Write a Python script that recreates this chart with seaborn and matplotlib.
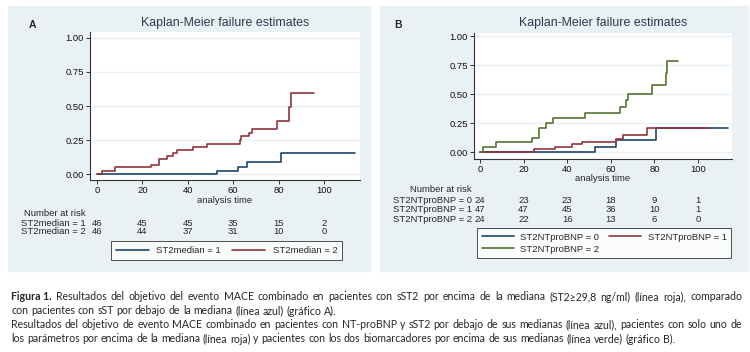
import numpy as np
import pandas as pd
import matplotlib
matplotlib.use("Agg")
import matplotlib.pyplot as plt
import matplotlib.transforms as mtransforms
from matplotlib.patches import Rectangle
from matplotlib.lines import Line2D
import seaborn as sns

# ================================
#  Data
# ================================
# Panel A - ST2median groups
a_time_1 = [0, 53.0, 62.3, 65.9, 80.9, 113.7]
a_fail_1 = [0, 0.022, 0.055, 0.088, 0.155, 0.155]
a_time_2 = [0, 2.0, 7.9, 24.0, 27.5, 30.7, 33.6, 35.4, 42.4, 48.3, 63.2, 63.6,
            67.1, 68.4, 79.3, 84.7, 85.3, 95.6]
a_fail_2 = [0, 0.022, 0.05, 0.069, 0.113, 0.135, 0.155, 0.177, 0.20, 0.222, 0.25,
            0.277, 0.303, 0.33, 0.392, 0.49, 0.596, 0.596]

# Panel B - ST2NTproBNP groups
b_time_0 = [0, 52.6, 62.5, 80.6, 113.8]
b_fail_0 = [0, 0.042, 0.10, 0.204, 0.204]
b_time_1 = [0, 24.6, 34.6, 42.3, 46.9, 62.2, 65.8, 76.8, 104.5]
b_fail_1 = [0, 0.022, 0.045, 0.066, 0.09, 0.11, 0.145, 0.204, 0.204]
b_time_2 = [0, 1.5, 7.4, 23.8, 26.9, 30.4, 33.5, 48.0, 64.0, 66.8, 68.0, 79.0,
            85.3, 85.7, 90.8]
b_fail_2 = [0, 0.042, 0.083, 0.125, 0.208, 0.25, 0.292, 0.34, 0.39, 0.445, 0.50,
            0.58, 0.68, 0.785, 0.785]

# Number at risk
risk_times = [0, 20, 40, 60, 80, 100]
a_labels = ["ST2median = 1", "ST2median = 2"]
a_risk = [[46, 45, 45, 35, 15, 2],
          [46, 44, 37, 31, 10, 0]]
b_labels = ["ST2NTproBNP = 0", "ST2NTproBNP = 1", "ST2NTproBNP = 2"]
b_risk = [[24, 23, 23, 18, 9, 1],
          [47, 47, 45, 36, 10, 1],
          [24, 22, 16, 13, 6, 0]]

x_ticks = [0, 20, 40, 60, 80, 100]
y_ticks = [0, 0.25, 0.5, 0.75, 1.0]
y_ticklabels = ["0.00", "0.25", "0.50", "0.75", "1.00"]

caption_bold = "Figura 1."
caption_lines = [
    "Resultados del objetivo del evento MACE combinado en pacientes con sST2 por encima de la mediana (ST2≥29,8 ng/ml) (línea roja), comparado",
    "con pacientes con sST por debajo de la mediana (línea azul) (gráfico A).",
    "Resultados del objetivo de evento MACE combinado en pacientes con NT-proBNP y sST2 por debajo de sus medianas (línea azul), pacientes con solo uno de",
    "los parámetros por encima de la mediana (línea roja) y pacientes con los dos biomarcadores por encima de sus medianas (línea verde) (gráfico B).",
]
caption_justify = [True, False, True, False]

# Stata s2color
NAVY = "#1a476f"
MAROON = "#90353b"
GREEN = "#55752f"
BG = "#eaf1f4"
TITLE_C = "#2a3a52"

sns.set_style("white")
plt.rcParams["font.family"] = ["Liberation Sans", "DejaVu Sans"]

W, H = 750, 352
fig = plt.figure(figsize=(7.5, 3.52), dpi=100)


def fx(x):
    return x / W


def fy(y):
    return 1 - y / H


def axes_rect(l, t, r, b):
    return [fx(l), fy(b), (r - l) / W, (b - t) / H]


# panel backgrounds
for l, r in [(8, 370), (380, 748)]:
    fig.add_artist(Rectangle((fx(l), fy(271)), (r - l) / W, 265 / H,
                             transform=fig.transFigure, color=BG, zorder=0))

FS = 6.8


def km_panel(rect, xlim, ylim, series, colors, letter, letter_xy, title_xy):
    ax = fig.add_axes(rect)
    ax.set_facecolor("white")
    frames = []
    for name, t, f in series:
        frames.append(pd.DataFrame({"time": t, "fail": f, "group": name}))
    df = pd.concat(frames, ignore_index=True)
    sns.lineplot(data=df, x="time", y="fail", hue="group", palette=colors,
                 drawstyle="steps-post", estimator=None, sort=False,
                 linewidth=1.2, legend=False, ax=ax)
    ax.set_xlim(*xlim)
    ax.set_ylim(*ylim)
    ax.set_xticks(x_ticks)
    ax.set_yticks(y_ticks)
    ax.set_yticklabels(y_ticklabels)
    ax.set_xlabel("")
    ax.set_ylabel("")
    ax.yaxis.grid(True, color=BG, lw=1.0)
    ax.xaxis.grid(False)
    ax.set_axisbelow(True)
    for s in ["top", "right"]:
        ax.spines[s].set_visible(False)
    for s in ["left", "bottom"]:
        ax.spines[s].set_color("#333333")
        ax.spines[s].set_linewidth(0.8)
    ax.tick_params(axis="both", which="major", length=3, width=0.7,
                   color="#333333", labelsize=FS, pad=1.5, direction="out",
                   bottom=True, left=True, labelcolor="#111111")
    fig.text(fx(letter_xy[0]), fy(letter_xy[1]), letter, fontsize=7.5,
             fontweight="bold", ha="center", va="center")
    fig.text(fx(title_xy[0]), fy(title_xy[1]), "Kaplan-Meier failure estimates",
             fontsize=8.9, color=TITLE_C, ha="center", va="center")
    return ax


ax_a = km_panel(axes_rect(90, 32, 360, 180), (-3.1, 115.9), (-0.044, 1.044),
                [(a_labels[0], a_time_1, a_fail_1), (a_labels[1], a_time_2, a_fail_2)],
                [NAVY, MAROON], "A", (32, 25), (225, 23))
ax_b = km_panel(axes_rect(474, 33, 732, 159), (-2.75, 115.6), (-0.06, 1.026),
                [(b_labels[0], b_time_0, b_fail_0), (b_labels[1], b_time_1, b_fail_1),
                 (b_labels[2], b_time_2, b_fail_2)],
                [NAVY, MAROON, GREEN], "B", (398, 25), (603, 23))

# axis titles
fig.text(fx(225), fy(200), "analysis time", fontsize=FS, ha="center", va="center")
fig.text(fx(603), fy(178.5), "analysis time", fontsize=FS, ha="center", va="center")


def risk_table(ax, labels, risk, label_right, y_head, y_rows):
    tr = mtransforms.blended_transform_factory(ax.transData, fig.transFigure)
    fig.text(fx(label_right), fy(y_head), "Number at risk", fontsize=FS,
             ha="right", va="center")
    for lab, row, yy in zip(labels, risk, y_rows):
        fig.text(fx(label_right), fy(yy), lab, fontsize=FS, ha="right", va="center")
        for t, n in zip(risk_times, row):
            ax.text(t, fy(yy), str(n), transform=tr, fontsize=FS,
                    ha="center", va="center")


risk_table(ax_a, a_labels, a_risk, 86, 213, [223, 232])
risk_table(ax_b, b_labels, b_risk, 472, 189.5, [200, 210, 220])

# legends
h_a = [Line2D([], [], color=NAVY, lw=1.2), Line2D([], [], color=MAROON, lw=1.2)]
leg_a = ax_a.legend(h_a, a_labels, loc="upper left", ncol=2,
                    bbox_to_anchor=(fx(111), fy(241.5)), bbox_transform=fig.transFigure,
                    fontsize=FS, frameon=True, fancybox=False, handlelength=3.5,
                    handletextpad=0.8, columnspacing=1.2, borderpad=0.5,
                    borderaxespad=0)
leg_a.get_frame().set_edgecolor("#222222")
leg_a.get_frame().set_linewidth(0.7)

h_b = [Line2D([], [], color=NAVY, lw=1.2), Line2D([], [], color=GREEN, lw=1.2),
       Line2D([], [], color=MAROON, lw=1.2)]
leg_b = ax_b.legend(h_b, [b_labels[0], b_labels[2], b_labels[1]], loc="upper left",
                    ncol=2, bbox_to_anchor=(fx(477), fy(228)),
                    bbox_transform=fig.transFigure, fontsize=FS, frameon=True,
                    fancybox=False, handlelength=3.4, handletextpad=0.7,
                    columnspacing=1.0, borderpad=0.5, labelspacing=0.3,
                    borderaxespad=0)
leg_b.get_frame().set_edgecolor("#222222")
leg_b.get_frame().set_linewidth(0.7)

# ================================
#  Caption (justified like the source page)
# ================================
CAP_FONT = ["Lato", "DejaVu Sans"]
cap_y = [297, 311, 325, 339]
cap_x0, cap_x1 = 11, 742
fig.canvas.draw()
renderer = fig.canvas.get_renderer()


def word_width(word, size, bold=False):
    t = fig.text(0, 0, word, fontsize=size, family=CAP_FONT,
                 fontweight="bold" if bold else "normal")
    w = t.get_window_extent(renderer).width
    t.remove()
    return w


# pick a size so the longest justified line fits with normal spacing
base = 7.6
space_w = word_width("a a", base) - 2 * word_width("a", base)
nat = []
for i, line in enumerate(caption_lines):
    words = line.split(" ")
    w = sum(word_width(wd, base) for wd in words) + space_w * (len(words) - 1)
    if i == 0:
        w += word_width(caption_bold, base, True) + space_w
    nat.append(w)
CAP_FS = base * min(1.0, (cap_x1 - cap_x0) / max(nat))

for i, (line, yy, just) in enumerate(zip(caption_lines, cap_y, caption_justify)):
    words = [(wd, False) for wd in line.split(" ")]
    if i == 0:
        words = [(caption_bold, True)] + words
    widths = [word_width(wd, CAP_FS, b) for wd, b in words]
    if just:
        gap = (cap_x1 - cap_x0 - sum(widths)) / (len(words) - 1)
    else:
        gap = word_width("a a", CAP_FS) - 2 * word_width("a", CAP_FS)
    x = cap_x0
    for (wd, b), w in zip(words, widths):
        fig.text(fx(x), fy(yy), wd, fontsize=CAP_FS, family=CAP_FONT,
                 fontweight="bold" if b else "normal", ha="left", va="center")
        x += w + gap

fig.savefig("out.png", dpi=100, facecolor="white")
